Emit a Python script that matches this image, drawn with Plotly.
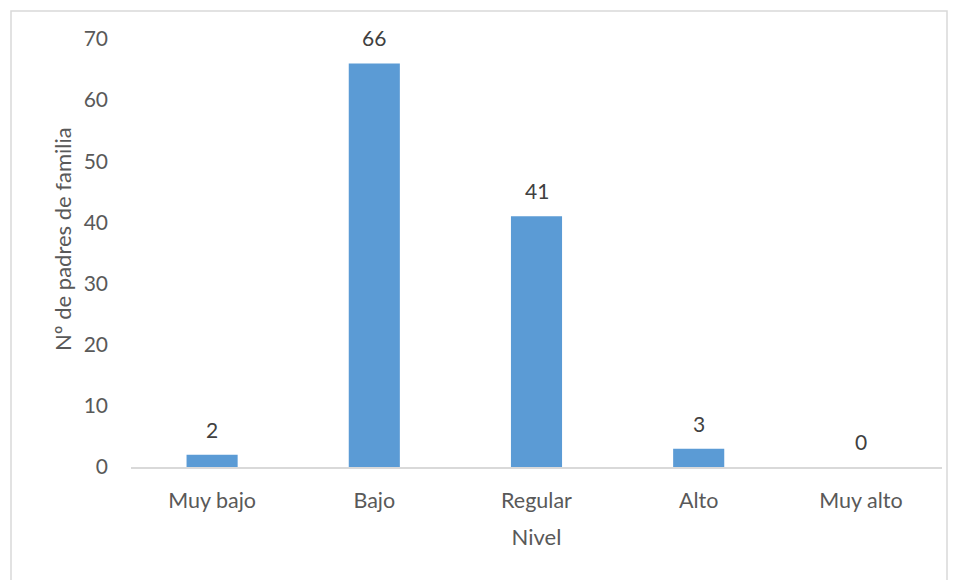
import plotly.graph_objects as go

categories = ["Muy bajo", "Bajo", "Regular", "Alto", "Muy alto"]
values = [2, 66, 41, 3, 0]
y_ticks = [0, 10, 20, 30, 40, 50, 60, 70]

FONT = "Lato, Open Sans, sans-serif"
GRAY = "#595959"

fig = go.Figure()
fig.add_trace(go.Bar(x=categories, y=values, marker_color="#5b9bd5",
                     marker_line_width=0, hoverinfo="skip"))

for c, v in zip(categories, values):
    fig.add_annotation(x=c, y=v, text=str(v), showarrow=False,
                       yanchor="bottom", yshift=11,
                       font=dict(family=FONT, size=21, color="#404040"))

# page has an 8px body margin
OFF = 8
W, H = 956 - OFF, 580 - OFF
L, R, T = 131 - OFF, 14, 39 - OFF
B = H - (467 - OFF)
pw, ph = W - L - R, H - T - B
bottom_px = H - B  # plot bottom in figure px

def py(ypage):
    return (bottom_px - (ypage - OFF)) / ph

def px(xpage):
    return ((xpage - OFF) - L) / pw

fig.add_shape(type="rect", xref="paper", yref="paper",
              x0=px(11), x1=px(947), y0=py(600), y1=py(11),
              line=dict(color="#d9d9d9", width=1.5), fillcolor="rgba(0,0,0,0)",
              layer="below")

# y-axis title (placed as annotation to match the original's offset)
fig.add_annotation(xref="paper", yref="paper", x=px(62), y=py(239),
                   text="Nº de padres de familia", textangle=-90, showarrow=False,
                   xanchor="center", yanchor="middle",
                   font=dict(family=FONT, size=22, color=GRAY))

fig.update_layout(
    width=W, height=H,
    margin=dict(l=L, r=R, t=T, b=B),
    paper_bgcolor="white", plot_bgcolor="white",
    bargap=0.685,
    showlegend=False,
    font=dict(family=FONT, size=21, color=GRAY),
    xaxis=dict(showgrid=False, showline=True, linecolor="#d9d9d9", linewidth=1.5,
               ticks="", ticklabelstandoff=13,
               tickfont=dict(size=21.5, color=GRAY),
               title=dict(text="Nivel", font=dict(size=22, color=GRAY), standoff=18)),
    yaxis=dict(range=[0, 70], tickvals=y_ticks, showgrid=False, showline=False,
               zeroline=False, ticks="", ticklabelstandoff=22,
               tickfont=dict(size=21, color=GRAY)),
)

fig.write_html("out.html")
